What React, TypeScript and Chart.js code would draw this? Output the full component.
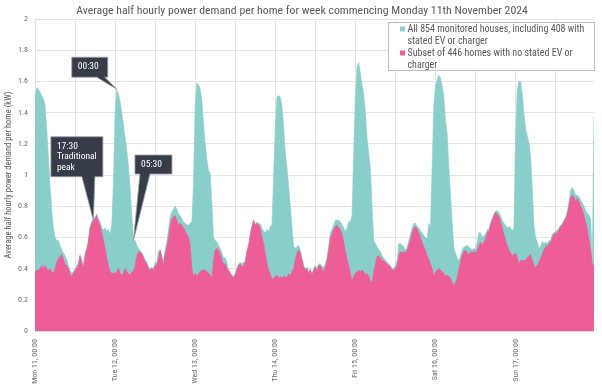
import React, { useEffect, useRef } from 'react';
import { Chart, registerables } from 'chart.js';

Chart.register(...registerables);

// ---------- DATA (half-hourly kW per home, 48 points per day) ----------
const dayLabels = ['Mon 11, 00:00', 'Tue 12, 00:00', 'Wed 13, 00:00', 'Thu 14, 00:00', 'Fri 15, 00:00', 'Sat 16, 00:00', 'Sun 17, 00:00'];
const yTickValues = [0, 0.2, 0.4, 0.6, 0.8, 1, 1.2, 1.4, 1.6, 1.8, 2];

const allMon = [1.50,1.56,1.55,1.53,1.51,1.49,1.45,1.30,1.12,0.93,0.78,0.66,0.60,0.58,0.58,0.55,0.52,0.50,0.48,0.46,0.42,0.39,0.37,0.38,0.40,0.42,0.44,0.49,0.46,0.42,0.50,0.53,0.58,0.67,0.70,0.72,0.73,0.75,0.72,0.70,0.66,0.65,0.66,0.64,0.65,0.62,0.68,0.95];
const allTue = [1.40,1.55,1.52,1.47,1.40,1.32,1.24,1.16,1.06,0.92,0.74,0.58,0.58,0.55,0.53,0.52,0.50,0.48,0.455,0.445,0.41,0.40,0.41,0.40,0.44,0.44,0.51,0.52,0.48,0.445,0.52,0.57,0.65,0.73,0.765,0.78,0.80,0.78,0.75,0.74,0.72,0.70,0.69,0.68,0.68,0.69,0.70,0.95];
const allWed = [1.45,1.59,1.58,1.55,1.48,1.33,1.20,1.10,1.03,1.01,0.82,0.60,0.58,0.57,0.55,0.53,0.50,0.47,0.47,0.44,0.39,0.37,0.36,0.35,0.37,0.40,0.43,0.44,0.43,0.44,0.445,0.51,0.55,0.615,0.67,0.71,0.68,0.70,0.69,0.685,0.66,0.64,0.63,0.65,0.64,0.67,0.68,0.99];
const allThu = [1.31,1.50,1.51,1.50,1.44,1.31,1.14,1.05,0.93,0.80,0.67,0.54,0.53,0.54,0.55,0.52,0.47,0.42,0.40,0.41,0.38,0.40,0.37,0.40,0.42,0.40,0.43,0.43,0.41,0.41,0.43,0.47,0.54,0.63,0.65,0.68,0.71,0.71,0.71,0.70,0.68,0.66,0.64,0.66,0.70,0.70,0.74,1.15];
const allFri = [1.50,1.69,1.72,1.65,1.58,1.52,1.40,1.24,1.14,1.04,0.80,0.58,0.56,0.54,0.52,0.51,0.48,0.47,0.455,0.44,0.43,0.42,0.40,0.40,0.42,0.45,0.56,0.56,0.55,0.54,0.52,0.53,0.58,0.62,0.66,0.69,0.69,0.67,0.66,0.64,0.63,0.61,0.60,0.59,0.69,0.66,1.05,1.45];
const allSat = [1.57,1.61,1.64,1.62,1.57,1.50,1.35,1.26,1.05,0.88,0.70,0.54,0.50,0.47,0.45,0.48,0.52,0.54,0.54,0.55,0.54,0.53,0.52,0.53,0.52,0.57,0.63,0.63,0.60,0.61,0.62,0.65,0.65,0.69,0.72,0.75,0.77,0.77,0.76,0.74,0.71,0.69,0.68,0.66,0.67,0.66,0.64,0.66];
const allSun = [1.25,1.55,1.60,1.60,1.52,1.40,1.30,1.25,1.21,1.12,0.92,0.68,0.60,0.57,0.53,0.54,0.575,0.56,0.57,0.56,0.58,0.58,0.62,0.63,0.64,0.645,0.66,0.68,0.69,0.71,0.73,0.77,0.83,0.90,0.92,0.90,0.87,0.87,0.86,0.84,0.82,0.80,0.77,0.755,0.74,0.72,0.44,1.37];

const noEvMon = [0.38,0.39,0.39,0.40,0.42,0.40,0.42,0.40,0.39,0.40,0.38,0.37,0.40,0.44,0.46,0.48,0.49,0.46,0.43,0.42,0.40,0.37,0.35,0.37,0.39,0.40,0.42,0.48,0.44,0.40,0.48,0.52,0.57,0.66,0.69,0.71,0.72,0.74,0.70,0.68,0.63,0.58,0.53,0.47,0.42,0.38,0.37,0.37];
const noEvTue = [0.37,0.38,0.40,0.37,0.36,0.37,0.40,0.38,0.37,0.36,0.38,0.38,0.42,0.48,0.51,0.50,0.50,0.47,0.44,0.43,0.40,0.39,0.40,0.39,0.42,0.42,0.47,0.52,0.47,0.42,0.50,0.54,0.60,0.67,0.72,0.73,0.74,0.71,0.68,0.69,0.68,0.66,0.64,0.62,0.60,0.55,0.40,0.35];
const noEvWed = [0.37,0.35,0.37,0.38,0.39,0.39,0.39,0.38,0.37,0.36,0.34,0.455,0.52,0.53,0.52,0.50,0.455,0.43,0.43,0.40,0.39,0.37,0.35,0.34,0.36,0.39,0.42,0.43,0.41,0.42,0.445,0.51,0.55,0.615,0.67,0.71,0.68,0.69,0.68,0.66,0.60,0.56,0.50,0.43,0.39,0.37,0.33,0.34];
const noEvThu = [0.35,0.36,0.34,0.35,0.34,0.35,0.35,0.34,0.37,0.35,0.38,0.40,0.455,0.50,0.52,0.50,0.455,0.41,0.39,0.40,0.37,0.39,0.36,0.39,0.41,0.38,0.42,0.42,0.40,0.38,0.41,0.45,0.52,0.60,0.62,0.65,0.67,0.68,0.66,0.65,0.62,0.57,0.51,0.46,0.42,0.37,0.32,0.35];
const noEvFri = [0.37,0.38,0.39,0.38,0.39,0.38,0.36,0.37,0.35,0.32,0.31,0.38,0.43,0.48,0.48,0.47,0.45,0.45,0.44,0.43,0.42,0.41,0.39,0.39,0.40,0.42,0.48,0.51,0.50,0.51,0.50,0.52,0.55,0.59,0.63,0.66,0.67,0.65,0.63,0.60,0.57,0.54,0.52,0.48,0.46,0.43,0.40,0.35];
const noEvSat = [0.38,0.39,0.40,0.39,0.38,0.37,0.35,0.36,0.35,0.34,0.31,0.29,0.31,0.34,0.40,0.44,0.49,0.51,0.52,0.50,0.49,0.51,0.50,0.51,0.50,0.52,0.55,0.57,0.55,0.57,0.59,0.63,0.64,0.68,0.71,0.74,0.76,0.75,0.73,0.70,0.66,0.62,0.58,0.55,0.52,0.50,0.48,0.49];
const noEvSun = [0.50,0.47,0.43,0.45,0.455,0.45,0.455,0.47,0.48,0.49,0.455,0.42,0.41,0.42,0.44,0.47,0.49,0.52,0.54,0.55,0.56,0.57,0.60,0.62,0.63,0.62,0.65,0.67,0.68,0.70,0.72,0.75,0.80,0.86,0.87,0.86,0.83,0.85,0.83,0.80,0.78,0.74,0.70,0.65,0.59,0.52,0.43,0.42];

const TITLE = 'Average half hourly power demand per home for week commencing Monday 11th November 2024';
const Y_TITLE = 'Average half hourly power demand per home (kW)';
const legendAll = ['All 854 monitored houses, including 408 with', 'stated EV or charger'];
const legendNoEv = ['Subset of 446 homes with no stated EV or', 'charger'];

// callouts: text lines + which point of which series they point at
const calloutText = [['00:30'], ['17:30', 'Traditional', 'peak'], ['05:30']];
const calloutIndex = [49, 35, 59];
const calloutSeries = ['all', 'noEv', 'all'];

// ---------- STYLE ----------
const FONT = '"Liberation Sans Narrow", "Roboto Condensed", "Arial Narrow", Roboto, sans-serif';
const TEAL = 'rgb(137,206,203)';
const PINK = 'rgb(236,94,149)';
const GRID = '#e3e3e3';
const TEXT = '#595959';

// box geometry relative to the tip (dx, dy, w, h, wedge base start/end along bottom)
const calloutBoxes = [
  { dx: -45, dy: -32, w: 36, h: 20, b1: 25, b2: 33 },
  { dx: -42.5, dy: -83.5, w: 52, h: 40, b1: 31, b2: 44 },
  { dx: 1.5, dy: -85.5, w: 37, h: 19, b1: 5, b2: 15 },
];

export default function App() {
  const ref = useRef<HTMLCanvasElement>(null);

  useEffect(() => {
    document.body.style.margin = '0';
    const all = [...allMon, ...allTue, ...allWed, ...allThu, ...allFri, ...allSat, ...allSun];
    const noEv = [...noEvMon, ...noEvTue, ...noEvWed, ...noEvThu, ...noEvFri, ...noEvSat, ...noEvSun];
    const lastIndex = all.length - 1;

    const titlePlugin = {
      id: 'customTitle',
      afterDraw(chart: any) {
        const ctx = chart.ctx;
        ctx.save();
        ctx.font = `11.8px ${FONT}`;
        ctx.fillStyle = TEXT;
        ctx.textAlign = 'center';
        ctx.textBaseline = 'middle';
        ctx.fillText(TITLE, 302, 11);
        ctx.restore();
      },
    };

    const legendPlugin = {
      id: 'customLegend',
      afterDatasetsDraw(chart: any) {
        const ctx = chart.ctx;
        const ca = chart.chartArea;
        const x = 388.5;
        const y = 22.5;
        const w = ca.right - 388;
        const h = 48;
        ctx.save();
        ctx.fillStyle = '#ffffff';
        ctx.fillRect(x, y, w, h);
        ctx.strokeStyle = '#bfbfbf';
        ctx.lineWidth = 1;
        ctx.strokeRect(x, y, w, h);
        ctx.font = `10px ${FONT}`;
        ctx.textBaseline = 'middle';
        ctx.textAlign = 'left';
        const groups = [
          { color: TEAL, lines: legendAll },
          { color: PINK, lines: legendNoEv },
        ];
        let ly = y + 6.5;
        groups.forEach((g) => {
          ctx.fillStyle = g.color;
          ctx.fillRect(x + 11.5, ly - 2.5, 5, 5);
          ctx.fillStyle = TEXT;
          g.lines.forEach((t, k) => {
            ctx.fillText(t, x + 19, ly + k * 12);
          });
          ly += g.lines.length * 12;
        });
        ctx.restore();
      },
    };

    const calloutPlugin = {
      id: 'callouts',
      afterDatasetsDraw(chart: any) {
        const ctx = chart.ctx;
        const xs = chart.scales.x;
        const ys = chart.scales.y;
        ctx.save();
        calloutText.forEach((lines, n) => {
          const idx = calloutIndex[n];
          const val = calloutSeries[n] === 'all' ? all[idx] : noEv[idx];
          const tx = xs.getPixelForValue(idx);
          const ty = ys.getPixelForValue(val);
          const b = calloutBoxes[n];
          const bx = tx + b.dx;
          const by = ty + b.dy;
          ctx.beginPath();
          ctx.moveTo(bx, by);
          ctx.lineTo(bx + b.w, by);
          ctx.lineTo(bx + b.w, by + b.h);
          ctx.lineTo(bx + b.b2, by + b.h);
          ctx.lineTo(tx, ty);
          ctx.lineTo(bx + b.b1, by + b.h);
          ctx.lineTo(bx, by + b.h);
          ctx.closePath();
          ctx.fillStyle = '#363d48';
          ctx.fill();
          ctx.strokeStyle = '#9aa0a8';
          ctx.lineWidth = 0.8;
          ctx.stroke();
          ctx.fillStyle = '#ffffff';
          ctx.font = `9.5px ${FONT}`;
          ctx.textAlign = 'left';
          ctx.textBaseline = 'middle';
          lines.forEach((t, k) => {
            ctx.fillText(t, bx + 6, by + 9.5 + k * 10.7);
          });
        });
        ctx.restore();
      },
    };

    const chart = new Chart(ref.current as HTMLCanvasElement, {
      type: 'line',
      data: {
        datasets: [
          {
            label: legendNoEv.join(' '),
            data: noEv.map((y, i) => ({ x: i, y })),
            backgroundColor: PINK,
            borderColor: PINK,
            borderWidth: 0.6,
            fill: 'origin',
            pointRadius: 0,
            tension: 0,
            order: 0,
          },
          {
            label: legendAll.join(' '),
            data: all.map((y, i) => ({ x: i, y })),
            backgroundColor: TEAL,
            borderColor: TEAL,
            borderWidth: 0.6,
            fill: 'origin',
            pointRadius: 0,
            tension: 0,
            order: 1,
          },
        ],
      },
      options: {
        animation: false,
        responsive: false,
        maintainAspectRatio: false,
        events: [],
        layout: { padding: { top: 19, right: 8, left: 0, bottom: 0 } },
        plugins: {
          legend: { display: false },
          tooltip: { enabled: false },
          title: { display: false },
        },
        scales: {
          x: {
            type: 'linear',
            min: 0,
            max: lastIndex,
            afterBuildTicks: (s: any) => {
              const t = [];
              for (let v = 0; v < lastIndex; v += 24) t.push({ value: v });
              s.ticks = t;
            },
            afterFit: (s: any) => {
              s.height = 59;
            },
            grid: { color: GRID, drawTicks: false, lineWidth: 1 },
            border: { color: '#d9d9d9' },
            ticks: {
              autoSkip: false,
              maxRotation: 90,
              minRotation: 90,
              padding: 8,
              color: '#6b6b6b',
              font: { family: FONT, size: 8 },
              callback: (v: any) => (Number(v) % 48 === 0 ? dayLabels[Number(v) / 48] : ''),
            },
          },
          y: {
            min: 0,
            max: 2,
            afterBuildTicks: (s: any) => {
              s.ticks = yTickValues.map((v) => ({ value: v }));
            },
            afterFit: (s: any) => {
              s.width = 35;
            },
            grid: { color: GRID, drawTicks: false, lineWidth: 1 },
            border: { display: false },
            ticks: {
              padding: 7,
              color: '#6b6b6b',
              font: { family: FONT, size: 8 },
              callback: (v: any) => String(Number(Number(v).toFixed(1))),
            },
            title: {
              display: true,
              text: Y_TITLE,
              color: TEXT,
              font: { family: FONT, size: 8.5 },
              padding: { top: 4, bottom: 0 },
            },
          },
        },
      },
      plugins: [titlePlugin, legendPlugin, calloutPlugin],
    } as any);

    return () => chart.destroy();
  }, []);

  return (
    <div style={{ width: 602, height: 390, position: 'relative', background: '#ffffff' }}>
      <canvas ref={ref} width={602} height={390} style={{ display: 'block', width: 602, height: 390 }} />
    </div>
  );
}
